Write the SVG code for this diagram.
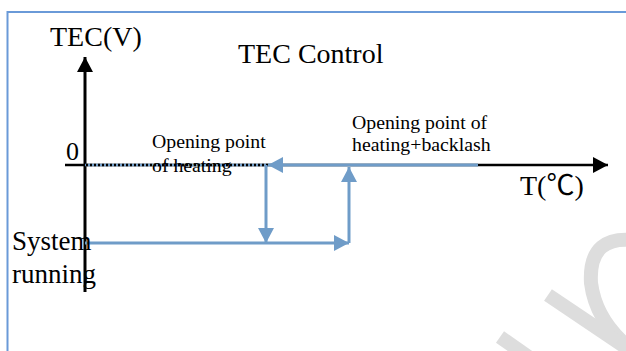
<svg xmlns="http://www.w3.org/2000/svg" width="626" height="351" viewBox="0 0 626 351">
<style>
.t{font-family:"Liberation Serif","Noto Sans CJK SC",serif;fill:#000}
.big{font-size:28px}
.small{font-size:19.8px}
.blue{stroke:#6f9cc8;stroke-width:3;fill:none}
.blk{stroke:#000;fill:none}
.wm{stroke:#dddddd;fill:none;stroke-width:14}
</style>
<defs>
<marker id="ab" viewBox="0 0 15 16" refX="15" refY="8" markerWidth="15" markerHeight="16" markerUnits="userSpaceOnUse" orient="auto"><path d="M0,0 L15,8 L0,16 z" fill="#6f9cc8"/></marker>
<marker id="ak" viewBox="0 0 15 16" refX="15" refY="8" markerWidth="15" markerHeight="16" markerUnits="userSpaceOnUse" orient="auto"><path d="M0,0 L15,8 L0,16 z" fill="#000"/></marker>
</defs>
<rect width="626" height="351" fill="#fff"/>
<g id="watermark">
<path class="wm" d="M640 241 Q588 232 591 283 Q596 322 632 350"/>
<line class="wm" x1="548" y1="295" x2="640" y2="357"/>
<line class="wm" x1="500" y1="337" x2="530" y2="358"/>
</g>
<rect id="frame" x="7.5" y="12" width="660" height="380" fill="none" stroke="#6a9ad8" stroke-width="2"/>
<g id="axes">
<line class="blk" x1="85" y1="292" x2="85" y2="57" stroke-width="3" marker-end="url(#ak)"/>
<line class="blk" x1="65" y1="165" x2="608" y2="165" stroke-width="2.5" marker-end="url(#ak)"/>
</g>
<g id="connectors">
<line x1="85" y1="165" x2="268" y2="165" stroke="#6f9cc8" stroke-width="2.5"/>
<line x1="86" y1="165" x2="268" y2="165" stroke="#000" stroke-width="2.5" stroke-dasharray="2 2"/>
<line class="blue" x1="478" y1="165" x2="268" y2="165" marker-end="url(#ab)"/>
<line class="blue" x1="266" y1="165" x2="266" y2="243" marker-end="url(#ab)"/>
<line class="blue" x1="85" y1="243" x2="349" y2="243" marker-end="url(#ab)"/>
<line class="blue" x1="349" y1="243" x2="349" y2="167" marker-end="url(#ab)"/>
</g>
<g id="labels">
<text id="ylabel" class="t big" x="50" y="46">TEC(V)</text>
<text id="title" class="t big" x="238" y="63">TEC Control</text>
<text id="zero" class="t" font-size="26" x="66" y="160">0</text>
<text id="xlabel" class="t big" x="520" y="195">T(℃)</text>
<text id="open1" class="t small"><tspan x="152" y="148">Opening point</tspan><tspan x="152" y="172">of heating</tspan></text>
<text id="open2" class="t small"><tspan x="352" y="129">Opening point of</tspan><tspan x="352" y="151">heating+backlash</tspan></text>
<text id="sys" class="t" font-size="27"><tspan x="12" y="250">System</tspan><tspan x="12" y="283">running</tspan></text>
</g>
</svg>
